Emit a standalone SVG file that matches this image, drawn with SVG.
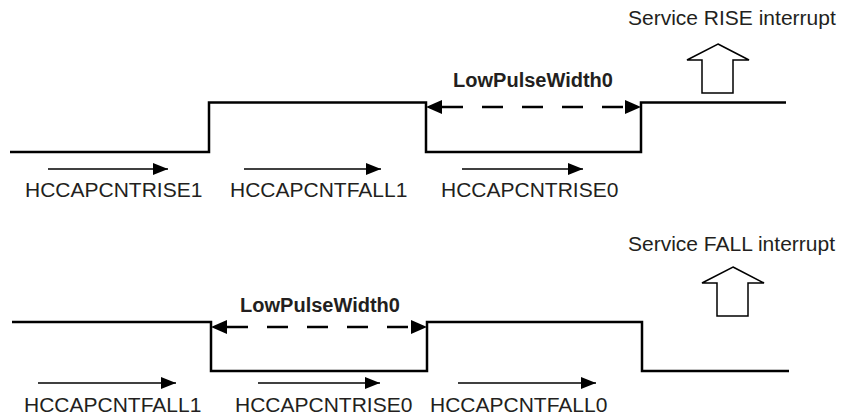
<svg xmlns="http://www.w3.org/2000/svg" width="842" height="416" viewBox="0 0 842 416">
<style>
.wave{fill:none;stroke:#000;stroke-width:2.5;stroke-linejoin:miter;stroke-linecap:butt}
.thin{fill:none;stroke:#000;stroke-width:1.3}
.dash{fill:none;stroke:#000;stroke-width:2.5;stroke-dasharray:21 19;stroke-dashoffset:24}
.hollow{fill:#fff;stroke:#000;stroke-width:1.5;stroke-linejoin:miter}
.lbl{font-family:"Liberation Sans",Arial,sans-serif;font-size:21px;fill:#231f20}
.bold{font-family:"Liberation Sans",Arial,sans-serif;font-size:20px;font-weight:bold;fill:#231f20}
</style>
<defs>
<marker id="ah" markerUnits="userSpaceOnUse" markerWidth="15" markerHeight="12" refX="15" refY="6" orient="auto"><path d="M0,0 L15,6 L0,12 z" fill="#000"/></marker>
<marker id="dh" markerUnits="userSpaceOnUse" markerWidth="16" markerHeight="14" refX="16" refY="7" orient="auto-start-reverse"><path d="M0,0 L16,7 L0,14 z" fill="#000"/></marker>
</defs>
<rect width="842" height="416" fill="#fff"/>

<g id="wave-rise">
<path class="wave" d="M10,152 H209 V102.5 H426 V152 H641 V102.5 H786"/>
</g>
<g id="wave-fall">
<path class="wave" d="M12,322 H211 V371 H427 V322 H642 V371 H789"/>
</g>

<g id="rise-interrupt">
<text class="lbl" x="628" y="25">Service RISE interrupt</text>
<polygon class="hollow" points="718,44 749,60 733,60 733,93 702,93 702,60 687,60"/>
</g>
<g id="fall-interrupt">
<text class="lbl" x="628" y="251">Service FALL interrupt</text>
<polygon class="hollow" points="733,267 764,283 748,283 748,316 717,316 717,283 702,283"/>
</g>

<g id="width-top">
<text class="bold" x="533" y="87" text-anchor="middle">LowPulseWidth0</text>
</g>
<g id="width-bottom">
<text class="bold" x="320" y="312" text-anchor="middle">LowPulseWidth0</text>
</g>

<g id="labels-top">
<text class="lbl" x="25" y="197">HCCAPCNTRISE1</text>
<text class="lbl" x="230" y="197">HCCAPCNTFALL1</text>
<text class="lbl" x="441" y="197">HCCAPCNTRISE0</text>
</g>
<g id="labels-bottom">
<text class="lbl" x="24" y="412">HCCAPCNTFALL1</text>
<text class="lbl" x="235" y="412">HCCAPCNTRISE0</text>
<text class="lbl" x="430" y="412">HCCAPCNTFALL0</text>
</g>

<g id="connectors">
<line class="dash" x1="426" y1="107" x2="641" y2="107" marker-start="url(#dh)" marker-end="url(#dh)"/>
<line class="dash" x1="211" y1="327" x2="427" y2="327" marker-start="url(#dh)" marker-end="url(#dh)"/>
<line class="thin" x1="48" y1="169" x2="168" y2="169" marker-end="url(#ah)"/>
<line class="thin" x1="244" y1="169" x2="381" y2="169" marker-end="url(#ah)"/>
<line class="thin" x1="462" y1="169" x2="583" y2="169" marker-end="url(#ah)"/>
<line class="thin" x1="38" y1="383" x2="176" y2="383" marker-end="url(#ah)"/>
<line class="thin" x1="258" y1="383" x2="380" y2="383" marker-end="url(#ah)"/>
<line class="thin" x1="458" y1="383" x2="596" y2="383" marker-end="url(#ah)"/>
</g>
</svg>
